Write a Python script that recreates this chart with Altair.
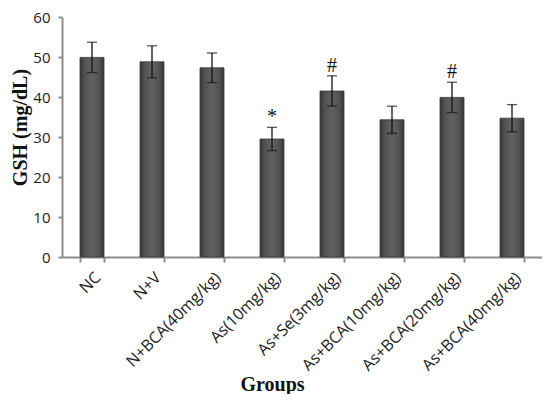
import altair as alt
import pandas as pd

groups = ["NC", "N+V", "N+BCA(40mg/kg)", "As(10mg/kg)", "As+Se(3mg/kg)",
          "As+BCA(10mg/kg)", "As+BCA(20mg/kg)", "As+BCA(40mg/kg)"]
means = [49.9, 48.8, 47.3, 29.5, 41.5, 34.3, 39.9, 34.7]
sds = [3.8, 4.0, 3.7, 2.9, 3.8, 3.4, 3.8, 3.4]
signif = ["", "", "", "*", "#", "", "#", ""]

df = pd.DataFrame({"group": groups, "mean": means, "sd": sds, "sig": signif})

AX = "#8c8c8c"
sans = "Open Sans"
serif = "Liberation Serif"

x_enc = alt.X(
    "group:N", sort=groups,
    scale=alt.Scale(paddingInner=0.6, paddingOuter=0.3),
    axis=alt.Axis(
        title="Groups", labelAngle=-45, tickBand="extent",
        domainColor=AX, domainWidth=2, tickColor=AX, tickWidth=2, tickSize=5,
        labelFont=sans, labelFontSize=16, labelColor="#222", labelPadding=7,
        labelLimit=300,
        titleFont=serif, titleFontSize=20, titleFontWeight="bold", titleColor="#111",
        titleX=210, titleY=117, titleBaseline="top",
    ),
)

y_axis = alt.Axis(
    title="GSH (mg/dL)", values=[0, 10, 20, 30, 40, 50, 60], grid=False,
    domainColor=AX, domainWidth=2, tickColor=AX, tickWidth=2, tickSize=4,
    labelFont=sans, labelFontSize=15, labelColor="#222", labelPadding=8,
    titleFont=serif, titleFontSize=20, titleFontWeight="bold", titleColor="#111",
    titleX=-32, titleY=110,
)
y_scale = alt.Scale(domain=[0, 60], nice=False)

base = alt.Chart(df).transform_calculate(
    hi="datum.mean + datum.sd", lo="datum.mean - datum.sd"
)

grad = alt.Gradient(
    gradient="linear", x1=0, x2=1, y1=0, y2=0,
    stops=[
        alt.GradientStop(color="#363636", offset=0),
        alt.GradientStop(color="#525252", offset=0.2),
        alt.GradientStop(color="#626262", offset=0.5),
        alt.GradientStop(color="#525252", offset=0.8),
        alt.GradientStop(color="#363636", offset=1),
    ],
)

bars = base.mark_bar(color=grad, stroke="#3a3a3a", strokeWidth=0.8).encode(
    x=x_enc, y=alt.Y("mean:Q", scale=y_scale, axis=y_axis)
)
rule = base.mark_rule(color="#111", strokeWidth=1.3).encode(
    x=x_enc, y=alt.Y("lo:Q", scale=y_scale, axis=y_axis), y2="hi:Q"
)
cap_hi = base.mark_tick(color="#111", size=10, thickness=1.3).encode(
    x=x_enc, y=alt.Y("hi:Q", scale=y_scale, axis=y_axis)
)
cap_lo = base.mark_tick(color="#111", size=10, thickness=1.3).encode(
    x=x_enc, y=alt.Y("lo:Q", scale=y_scale, axis=y_axis)
)
txt = base.mark_text(baseline="bottom", dy=0, font=serif, fontSize=20, color="#111").encode(
    x=x_enc, y=alt.Y("hi:Q", scale=y_scale, axis=y_axis), text="sig:N"
)

chart = alt.layer(bars, rule, cap_hi, cap_lo, txt).properties(
    width=480, height=240,
    autosize=alt.AutoSizeParams(type="none"),
    padding={"left": 54, "top": 9, "right": 0, "bottom": 137},
    background="white",
).configure_view(stroke=None)

chart.save("out.html", embed_options={"renderer": "svg", "actions": False})
